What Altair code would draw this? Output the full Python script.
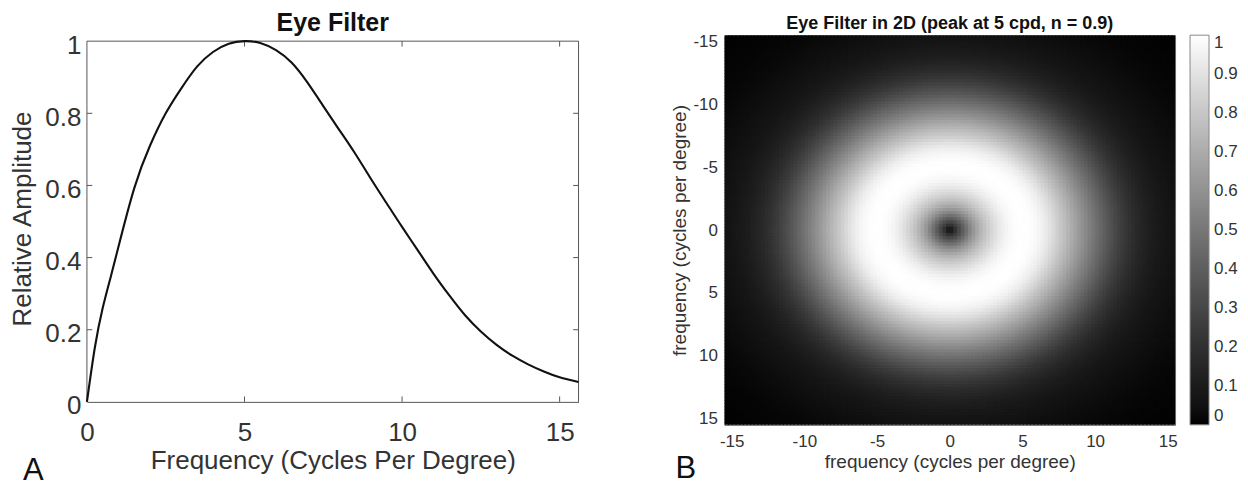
import altair as alt
import numpy as np
import pandas as pd

# ---------------- data ----------------
# Panel A: radial eye-filter profile (cycles per degree -> relative amplitude)
FREQ = [0, 0.25, 0.5, 0.75, 1.0, 1.5, 2.0, 2.5, 3.0, 3.5, 4.0, 4.5, 5.0,
        5.5, 6.0, 6.5, 7.0, 7.5, 8.0, 8.5, 9.0, 9.5, 10.0, 10.5, 11.0,
        11.5, 12.0, 12.5, 13.0, 13.5, 14.0, 14.5, 15.0, 15.6]
AMP = [0.0, 0.15, 0.26, 0.345, 0.43, 0.592, 0.71, 0.80, 0.87, 0.93, 0.97,
       0.993, 1.0, 0.995, 0.975, 0.94, 0.885, 0.82, 0.755, 0.69, 0.62,
       0.552, 0.485, 0.42, 0.355, 0.295, 0.24, 0.195, 0.158, 0.128, 0.104,
       0.084, 0.068, 0.055]
# profile beyond the plotted range (visible only in the dark corners of panel B)
TAIL_FREQ = [16.5, 17.5, 18.5, 19.5, 20.5, 22.0]
TAIL_AMP = [0.040, 0.028, 0.019, 0.013, 0.009, 0.005]

X_TICKS_A = [0, 5, 10, 15]
Y_TICKS_A = [0, 0.2, 0.4, 0.6, 0.8, 1]
TICKS_B = [-15, -10, -5, 0, 5, 10, 15]
CBAR_TICKS = [0, 0.1, 0.2, 0.3, 0.4, 0.5, 0.6, 0.7, 0.8, 0.9, 1]

TITLES = ["Eye Filter", "Eye Filter in 2D (peak at 5 cpd, n = 0.9)"]
X_TITLES = ["Frequency (Cycles Per Degree)", "frequency (cycles per degree)"]
Y_TITLES = ["Relative Amplitude", "frequency (cycles per degree)"]
PANEL_LABELS = ["A", "B"]

# ---------------- layout / style ----------------
FONT = "Liberation Sans"
XMAX_A = 15.6
HALF_B = 15.5
STEP = 0.25
WA, HA = 492, 361
HEAD_A = 6                      # px of empty space above panel A's box
YTOP_A = 1 + HEAD_A / HA
WB, HB = 451, 390
LABEL_COL = "#333333"
BOX_COL = "#555555"
PLAIN = "'' + datum.value"      # hyphen-minus labels, as in the reference

# ---------------- panel A ----------------
line_df = pd.DataFrame({"f": FREQ, "a": AMP})

rule_rows = [
    {"f": 0, "f2": XMAX_A, "a": 1, "a2": 1},          # top of box
    {"f": XMAX_A, "f2": XMAX_A, "a": 0, "a2": 1},     # right of box
    {"f": 0, "f2": 0, "a": 0, "a2": 1},               # left of box
]
tlx, tly = 0.17, 0.015
for t in X_TICKS_A[1:]:
    rule_rows.append({"f": t, "f2": t, "a": 0, "a2": tly})
    rule_rows.append({"f": t, "f2": t, "a": 1, "a2": 1 - tly})
for t in Y_TICKS_A[1:-1]:
    rule_rows.append({"f": 0, "f2": tlx, "a": t, "a2": t})
    rule_rows.append({"f": XMAX_A, "f2": XMAX_A - tlx, "a": t, "a2": t})
rule_df = pd.DataFrame(rule_rows)

ax_xa = alt.Axis(values=X_TICKS_A, title=X_TITLES[0], ticks=False, grid=False,
                 labelPadding=18, titlePadding=2, labelFlush=False,
                 labelExpr=PLAIN,
                 labelFontSize=26, titleFontSize=26, titleFontWeight="normal",
                 labelFont=FONT, titleFont=FONT, labelColor=LABEL_COL,
                 titleColor=LABEL_COL, domainColor=BOX_COL)
ax_ya = alt.Axis(values=Y_TICKS_A, title=Y_TITLES[0], ticks=False, grid=False,
                 domain=False, labelExpr=PLAIN, labelPadding=6, titlePadding=8,
                 minExtent=43, maxExtent=43, labelOffset=4,
                 labelFontSize=26, titleFontSize=26, titleFontWeight="normal",
                 labelFont=FONT, titleFont=FONT, labelColor=LABEL_COL,
                 titleColor=LABEL_COL)
sx_a = alt.Scale(domain=[0, XMAX_A], nice=False, zero=False)
sy_a = alt.Scale(domain=[0, YTOP_A], nice=False)

line_a = alt.Chart(line_df).mark_line(color="#111111", strokeWidth=2.1,
                                      interpolate="natural").encode(
    x=alt.X("f:Q", scale=sx_a, axis=ax_xa),
    y=alt.Y("a:Q", scale=sy_a, axis=ax_ya),
)
rules_a = alt.Chart(rule_df).mark_rule(color=BOX_COL, strokeWidth=1).encode(
    x=alt.X("f:Q", scale=sx_a, axis=ax_xa),
    x2="f2:Q",
    y=alt.Y("a:Q", scale=sy_a, axis=ax_ya),
    y2="a2:Q",
)
letter_a = alt.Chart(pd.DataFrame({"t": [PANEL_LABELS[0]]})).mark_text(
    align="left", baseline="alphabetic", fontSize=31, font=FONT, color="#111111"
).encode(text="t:N", x=alt.value(-64), y=alt.value(439 + HEAD_A))

panel_a = alt.layer(rules_a, line_a, letter_a).properties(
    width=WA, height=HA + HEAD_A,
    view=alt.ViewBackground(stroke="transparent"),
    title=alt.TitleParams(TITLES[0], font=FONT, fontSize=25, fontWeight="bold",
                          color="#111111", offset=-4),
)

# ---------------- panel B ----------------
prof_f = np.array(FREQ + TAIL_FREQ)
prof_a = np.array(AMP + TAIL_AMP)
centers = np.arange(-HALF_B + STEP / 2, HALF_B, STEP)
GX, GY = np.meshgrid(centers, centers)
GV = np.interp(np.hypot(GX, GY), prof_f, prof_a)
heat_df = pd.DataFrame({"x": GX.ravel().round(3), "y": GY.ravel().round(3),
                        "v": GV.ravel().round(3)})

gray = alt.Scale(domain=[0, 1], range=["#000000", "#ffffff"])
ax_xb = alt.Axis(values=TICKS_B, title=X_TITLES[1], ticks=False, grid=False,
                 domain=False, labelPadding=9, titlePadding=3, labelFlush=False,
                 labelExpr=PLAIN,
                 labelFontSize=17, titleFontSize=19, titleFontWeight="normal",
                 labelFont=FONT, titleFont=FONT, labelColor=LABEL_COL,
                 titleColor=LABEL_COL)
ax_yb = alt.Axis(values=TICKS_B, title=Y_TITLES[1], ticks=False, grid=False,
                 domain=False, labelPadding=7, titlePadding=3, labelExpr=PLAIN,
                 minExtent=32, maxExtent=32,
                 labelFontSize=17, titleFontSize=19, titleFontWeight="normal",
                 labelFont=FONT, titleFont=FONT, labelColor=LABEL_COL,
                 titleColor=LABEL_COL)

half = STEP / 2
ov = 0.1   # slight overlap of neighbouring cells hides anti-aliasing seams
heat = alt.Chart(heat_df).transform_calculate(
    x0=f"datum.x - {half}", x1=f"datum.x + {half + ov}",
    y0=f"datum.y - {half}", y1=f"datum.y + {half + ov}",
).mark_rect(clip=True).encode(
    x=alt.X("x0:Q", scale=alt.Scale(domain=[-HALF_B, HALF_B], nice=False, zero=False),
            axis=ax_xb),
    x2="x1:Q",
    y=alt.Y("y0:Q", scale=alt.Scale(domain=[-HALF_B, HALF_B], nice=False, zero=False,
                                    reverse=True), axis=ax_yb),
    y2="y1:Q",
    color=alt.Color("v:Q", scale=gray, legend=alt.Legend(
        title=None, type="gradient", direction="vertical", orient="right",
        values=CBAR_TICKS, labelExpr=PLAIN, gradientLength=HB,
        gradientThickness=19, offset=12, labelFontSize=17, labelFont=FONT,
        labelColor=LABEL_COL, labelOffset=5, labelOverlap=False,
        gradientStrokeColor="#888888", gradientStrokeWidth=1)),
)
letter_b = alt.Chart(pd.DataFrame({"t": [PANEL_LABELS[1]]})).mark_text(
    align="left", baseline="alphabetic", fontSize=31, font=FONT, color="#111111"
).encode(text="t:N", x=alt.value(-49), y=alt.value(443))

panel_b = alt.layer(heat, letter_b).properties(
    width=WB, height=HB,
    title=alt.TitleParams(TITLES[1], font=FONT, fontSize=18, fontWeight="bold",
                          color="#111111", offset=-1),
)

chart = alt.hconcat(panel_a, panel_b, spacing=86).properties(
    padding={"left": 1, "top": 2, "right": 2, "bottom": 0}
).configure_view(stroke="#666666", strokeWidth=1)

chart.save("out.html", embed_options={"renderer": "svg", "actions": False})
